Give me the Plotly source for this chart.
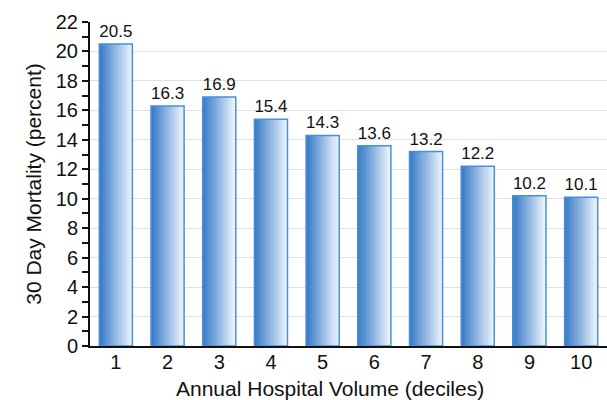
import plotly.graph_objects as go

# Annual hospital volume deciles and 30-day mortality (%)
deciles = [1, 2, 3, 4, 5, 6, 7, 8, 9, 10]
mortality = [20.5, 16.3, 16.9, 15.4, 14.3, 13.6, 13.2, 12.2, 10.2, 10.1]
y_ticks = [0, 2, 4, 6, 8, 10, 12, 14, 16, 18, 20, 22]

FONT = "Liberation Sans, Arial, sans-serif"
BAR_W = 0.64
N_SLICES = 32
DARK = (52, 120, 198)
LIGHT = (236, 244, 252)

fig = go.Figure()

# Horizontal gradient fill: narrow overlaid bar slices from dark to light
slice_w = BAR_W / N_SLICES
for i in range(N_SLICES):
    t = i / (N_SLICES - 1)
    c = tuple(round(DARK[k] + (LIGHT[k] - DARK[k]) * t) for k in range(3))
    fig.add_trace(go.Bar(
        x=deciles, y=mortality,
        width=slice_w * 1.08,
        offset=-BAR_W / 2 + i * slice_w,
        marker=dict(color="rgb(%d,%d,%d)" % c, line=dict(width=0)),
        hoverinfo="skip", showlegend=False,
    ))

# Outline with value labels
fig.add_trace(go.Bar(
    x=deciles, y=mortality,
    width=BAR_W,
    marker=dict(color="rgba(0,0,0,0)", line=dict(color="#4a90d9", width=1.5)),
    text=[f"{v:.1f}" for v in mortality],
    textposition="outside",
    textfont=dict(family=FONT, size=17, color="#111"),
    cliponaxis=False,
    showlegend=False,
))

fig.update_layout(
    width=607, height=400,
    margin=dict(l=90, r=0, t=22, b=54),
    barmode="overlay",
    plot_bgcolor="white", paper_bgcolor="white",
    font=dict(family=FONT, color="#111"),
    xaxis=dict(
        range=[0.5, 10.5],
        tickmode="array", tickvals=deciles, ticktext=[str(d) for d in deciles],
        tickfont=dict(size=20), ticks="",
        ticklabelstandoff=-3,
        showline=True, linecolor="#111", linewidth=2,
        showgrid=False, zeroline=False,
    ),
    yaxis=dict(
        range=[0, 22],
        tickmode="array", tickvals=y_ticks,
        tickfont=dict(size=20),
        ticks="outside", ticklen=6, tickwidth=2, tickcolor="#111",
        minor=dict(dtick=1, ticks="outside", ticklen=6, tickwidth=2, tickcolor="#111", showgrid=False),
        showline=True, linecolor="#111", linewidth=2,
        showgrid=True, gridcolor="#e0e0e0", gridwidth=1,
        zeroline=False,
        title=dict(text="30 Day Mortality (percent)", font=dict(size=21), standoff=8),
    ),
    annotations=[dict(
        text="Annual Hospital Volume (deciles)",
        xref="paper", yref="paper", x=0.465, y=0, yshift=-42,
        xanchor="center", yanchor="middle", showarrow=False,
        font=dict(family=FONT, size=21, color="#111"),
    )],
)

fig.write_html("out.html")
